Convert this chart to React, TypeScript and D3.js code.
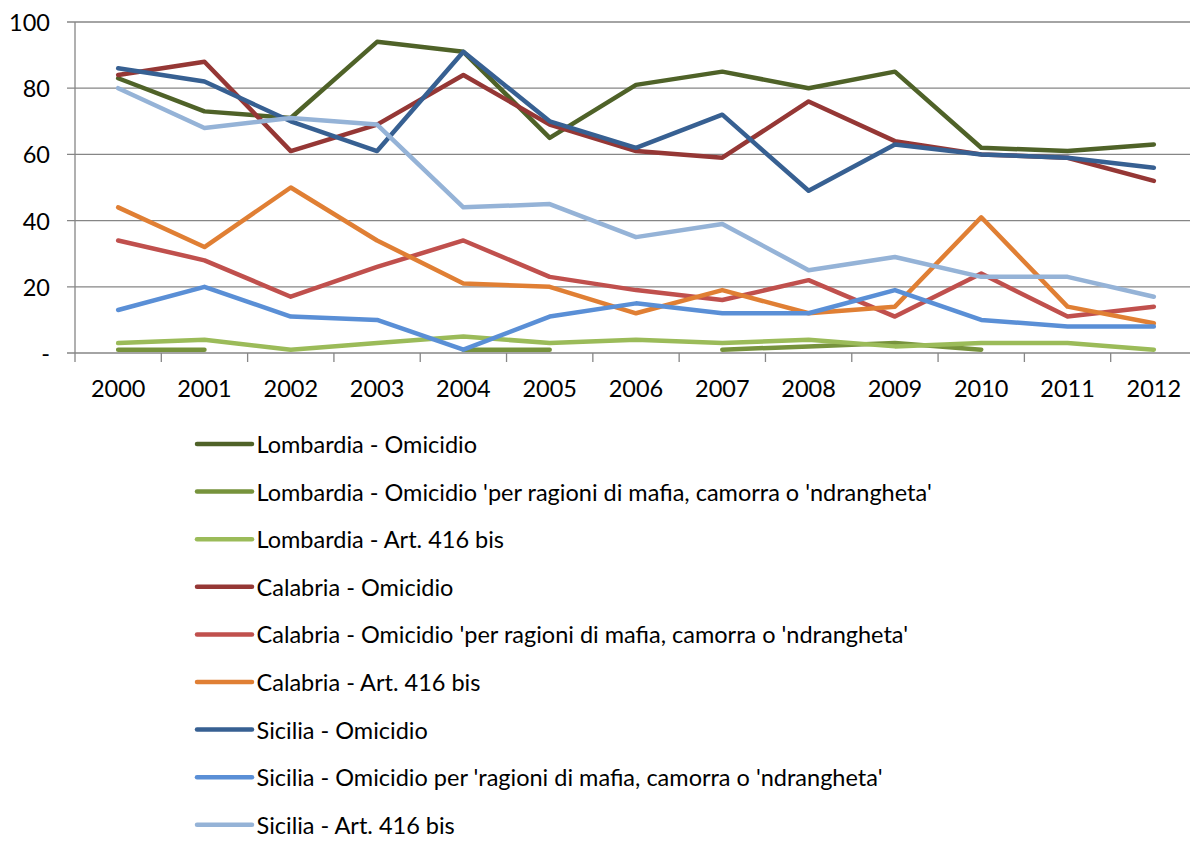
import React from 'react';
import * as d3 from 'd3';

// anni sull'asse x
const years = ['2000', '2001', '2002', '2003', '2004', '2005', '2006', '2007', '2008', '2009', '2010', '2011', '2012'];
const yTicks = [0, 20, 40, 60, 80, 100];

type Val = number | null;

const lombardiaOmicidio: Val[] = [83, 73, 71, 94, 91, 65, 81, 85, 80, 85, 62, 61, 63];
const lombardiaMafia: Val[] = [1, 1, null, null, 1, 1, null, 1, 2, 3, 1, null, null];
const lombardia416: Val[] = [3, 4, 1, 3, 5, 3, 4, 3, 4, 2, 3, 3, 1];
const calabriaOmicidio: Val[] = [84, 88, 61, 69, 84, 69, 61, 59, 76, 64, 60, 59, 52];
const calabriaMafia: Val[] = [34, 28, 17, 26, 34, 23, 19, 16, 22, 11, 24, 11, 14];
const calabria416: Val[] = [44, 32, 50, 34, 21, 20, 12, 19, 12, 14, 41, 14, 9];
const siciliaOmicidio: Val[] = [86, 82, 70, 61, 91, 70, 62, 72, 49, 63, 60, 59, 56];
const siciliaMafia: Val[] = [13, 20, 11, 10, 1, 11, 15, 12, 12, 19, 10, 8, 8];
const sicilia416: Val[] = [80, 68, 71, 69, 44, 45, 35, 39, 25, 29, 23, 23, 17];

const seriesNames = [
  'Lombardia - Omicidio',
  "Lombardia - Omicidio 'per ragioni di mafia, camorra o 'ndrangheta'",
  'Lombardia - Art. 416 bis',
  'Calabria - Omicidio',
  "Calabria - Omicidio 'per ragioni di mafia, camorra o 'ndrangheta'",
  'Calabria - Art. 416 bis',
  'Sicilia - Omicidio',
  "Sicilia - Omicidio per 'ragioni di mafia, camorra o 'ndrangheta'",
  'Sicilia - Art. 416 bis',
];
const seriesValues = [
  lombardiaOmicidio, lombardiaMafia, lombardia416,
  calabriaOmicidio, calabriaMafia, calabria416,
  siciliaOmicidio, siciliaMafia, sicilia416,
];
const colors = ['#4F6228', '#77933C', '#9BBB59', '#953735', '#C0504D', '#E07F34', '#376092', '#5A8FD6', '#95B3D7'];

const font = 'Lato, Carlito, Calibri, sans-serif';

export default function App() {
  const left = 75, right = 1197, top = 22, bottom = 353;

  const x = d3.scaleBand<string>().domain(years).range([left, right]).padding(0);
  const y = d3.scaleLinear().domain([0, 100]).range([bottom, top]);
  const cx = (i: number) => (x(years[i]) as number) + x.bandwidth() / 2;

  const line = d3.line<Val>()
    .defined(d => d !== null)
    .x((_, i) => cx(i))
    .y(d => y(d as number));

  const bounds = years.map(yr => x(yr) as number).concat([right]);

  return (
    <svg width={1190} height={842} style={{ position: 'absolute', left: 0, top: 0, background: '#fff' }}>
      {/* griglia */}
      {yTicks.map(t => (
        <g key={t}>
          <line x1={left - 8} x2={right} y1={y(t)} y2={y(t)} stroke="#868686" strokeWidth={1.3} />
          <text x={50} y={y(t)} textAnchor="end" dominantBaseline="central" fontFamily={font} fontSize={23.5} fill="#000">
            {t === 0 ? '-' : t}
          </text>
        </g>
      ))}
      <line x1={left} x2={left} y1={top} y2={bottom} stroke="#868686" strokeWidth={1.3} />
      {bounds.map((b, i) => (
        <line key={i} x1={b} x2={b} y1={bottom} y2={bottom + 9} stroke="#868686" strokeWidth={1.3} />
      ))}
      {years.map((yr, i) => (
        <text key={yr} x={cx(i)} y={388} textAnchor="middle" dominantBaseline="central" fontFamily={font} fontSize={23.5} fill="#000">
          {yr}
        </text>
      ))}

      {seriesValues.map((vals, s) => (
        <path key={s} d={line(vals) || ''} fill="none" stroke={colors[s]} strokeWidth={4.5}
          strokeLinejoin="round" strokeLinecap="round" />
      ))}

      {/* legenda */}
      {seriesNames.map((name, s) => {
        const ly = 444 + s * 47.6;
        return (
          <g key={name}>
            <line x1={197} x2={252} y1={ly} y2={ly} stroke={colors[s]} strokeWidth={4.5} strokeLinecap="round" />
            <text x={256.5} y={ly} dominantBaseline="central" fontFamily={font} fontSize={23.5} fill="#000">{name}</text>
          </g>
        );
      })}
    </svg>
  );
}
